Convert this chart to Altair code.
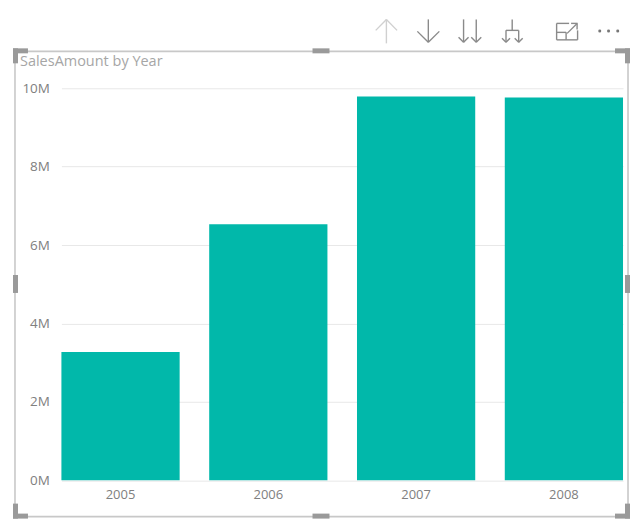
import altair as alt
import pandas as pd

years = ["2005", "2006", "2007", "2008"]
sales = [3270000, 6530000, 9790000, 9765000]
y_ticks = [0, 2000000, 4000000, 6000000, 8000000, 10000000]
title_text = "SalesAmount by Year"

TEAL = "#01b8aa"
FONT = "Open Sans"
W, H = 562.5, 392.5
OX, OY = 61.5, 88   # page position of the plot origin

df = pd.DataFrame({"Year": years, "SalesAmount": sales})

bars = alt.Chart(df).mark_bar(color=TEAL).encode(
    x=alt.X("Year:N", sort=years, title=None,
            scale=alt.Scale(paddingInner=0.2, paddingOuter=0),
            axis=alt.Axis(labelAngle=0, domain=False, ticks=False, grid=False,
                          labelPadding=8, labelColor="#808080",
                          labelFont=FONT, labelFontSize=13)),
    y=alt.Y("SalesAmount:Q", title=None,
            scale=alt.Scale(domain=[0, 10000000], nice=False),
            axis=alt.Axis(values=y_ticks, domain=False, ticks=False,
                          labelExpr="datum.value / 1000000 + 'M'",
                          labelPadding=12, labelColor="#808080",
                          labelFont=FONT, labelFontSize=13.5,
                          gridColor="#e8e8e8", gridWidth=1)),
)


def seg(x1, y1, x2, y2, color="#8a8a8a", w=1.4):
    return alt.Chart(df.head(1)).mark_rule(color=color, strokeWidth=w).encode(
        x=alt.value(x1 - OX), x2=alt.value(x2 - OX),
        y=alt.value(y1 - OY), y2=alt.value(y2 - OY))


def box(x1, y1, x2, y2, color="#9a9a9a"):
    return alt.Chart(df.head(1)).mark_rect(color=color).encode(
        x=alt.value(x1 - OX), x2=alt.value(x2 - OX),
        y=alt.value(y1 - OY), y2=alt.value(y2 - OY))


def dot(x, y):
    return alt.Chart(df.head(1)).mark_circle(color="#777777", opacity=1, size=9).encode(
        x=alt.value(x - OX), y=alt.value(y - OY))


def down(x, y1, y2, head, color="#8a8a8a"):
    return [seg(x, y1, x, y2, color),
            seg(x - head, y2 - head, x, y2, color),
            seg(x + head, y2 - head, x, y2, color)]


title_mark = alt.Chart(df.head(1)).mark_text(
    align="left", baseline="middle", color="#a6a6a6", font=FONT, fontSize=14.5
).encode(x=alt.value(20 - OX), y=alt.value(62 - OY), text=alt.value(title_text))

chrome = []
# frame
F = "#c8c8c8"
chrome += [seg(15, 51, 629, 51, F, 1.6), seg(15, 517, 629, 517, F, 1.6),
           seg(15, 51, 15, 517, F, 1.6), seg(629, 51, 629, 517, F, 1.6)]
# corner and edge handles
chrome += [box(13, 48, 28, 53), box(13, 48, 18, 63),
           box(616, 48, 631, 53), box(626, 48, 631, 63),
           box(13, 514, 28, 519), box(13, 504, 18, 519),
           box(616, 514, 631, 519), box(626, 504, 631, 519),
           box(313, 48, 330, 53), box(313, 514, 330, 519),
           box(13, 275, 18, 293), box(626, 275, 631, 293)]
# up arrow (disabled)
U = "#d0d0d0"
chrome += [seg(387, 19, 387, 43, U), seg(376.3, 30, 387, 19, U), seg(397.7, 30, 387, 19, U)]
# down arrow
chrome += down(429, 19, 42, 11)
# double down
chrome += down(464.3, 19, 42, 5) + down(477, 19, 42, 5)
# drill
chrome += [seg(513, 19, 513, 30), seg(506.8, 30, 519.5, 30)]
chrome += down(506.8, 30, 42, 4) + down(519.5, 30, 42, 4)
# focus
chrome += [seg(557.5, 23, 570, 23), seg(557.5, 23, 557.5, 39.5), seg(557.5, 39.5, 578.5, 39.5),
           seg(578.5, 30, 578.5, 39.5), seg(557.5, 32, 567, 32), seg(567, 32, 567, 39.5),
           seg(568, 33, 578, 23), seg(572, 23, 578.5, 23), seg(578, 23, 578, 29)]
# more
chrome += [dot(600.7, 30.7), dot(609.5, 30.7), dot(618.7, 30.7)]

chart = alt.layer(bars, title_mark, *chrome).properties(
    width=W, height=H,
    padding={"left": 53.5, "top": 80, "right": 9, "bottom": 40},
    autosize=alt.AutoSizeParams(type="none"),
).configure_view(stroke=None)

chart.save("out.html", embed_options={"renderer": "svg", "actions": False})
